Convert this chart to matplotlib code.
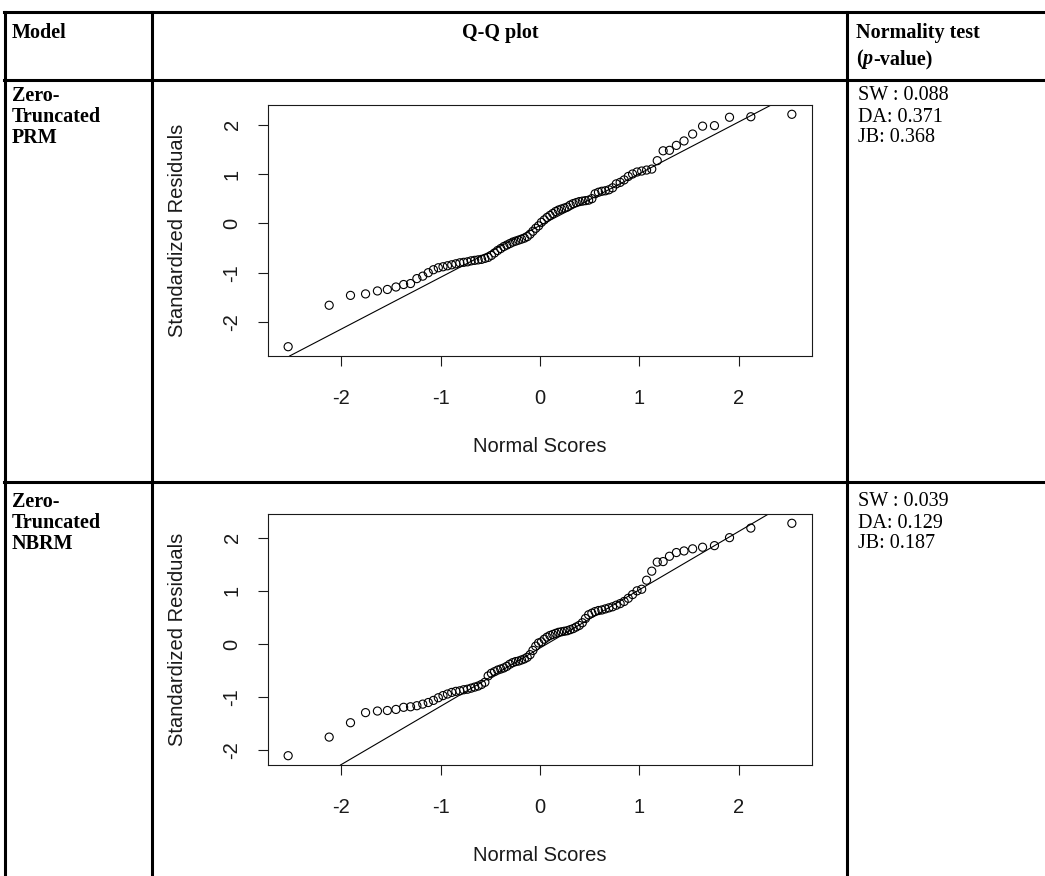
import numpy as np
import matplotlib.pyplot as plt
from matplotlib.lines import Line2D
from statistics import NormalDist

# --- Data: sorted standardized residuals of each model ---
models = [["Zero-", "Truncated", "PRM"], ["Zero-", "Truncated", "NBRM"]]
pvalues = [["SW : 0.088", "DA: 0.371", "JB: 0.368"],
           ["SW : 0.039", "DA: 0.129", "JB: 0.187"]]

resid_prm = [-2.50, -1.66, -1.46, -1.43, -1.37, -1.34, -1.29, -1.24, -1.22, -1.12,
             -1.07, -1.00, -0.94, -0.90, -0.88, -0.86, -0.84, -0.82, -0.80, -0.79,
             -0.78, -0.76, -0.75, -0.74, -0.73, -0.71, -0.69, -0.65, -0.60, -0.55,
             -0.51, -0.47, -0.44, -0.41, -0.38, -0.36, -0.34, -0.32, -0.30, -0.27,
             -0.22, -0.16, -0.10, -0.05,
             0.02, 0.07, 0.12, 0.16, 0.20, 0.24, 0.27, 0.29, 0.31, 0.33,
             0.37, 0.40, 0.42, 0.44, 0.45, 0.46, 0.47, 0.50, 0.60, 0.63,
             0.65, 0.66, 0.68, 0.72, 0.80, 0.83, 0.88, 0.95, 1.00, 1.04,
             1.06, 1.08, 1.10, 1.27, 1.47, 1.48, 1.58, 1.67, 1.81, 1.97,
             1.98, 2.15, 2.16, 2.21]

resid_nbrm = [-2.10, -1.75, -1.48, -1.29, -1.26, -1.25, -1.23, -1.19, -1.18, -1.16,
              -1.13, -1.10, -1.06, -1.01, -0.97, -0.94, -0.91, -0.89, -0.88, -0.86,
              -0.85, -0.83, -0.81, -0.79, -0.76, -0.72, -0.60, -0.55, -0.52, -0.49,
              -0.47, -0.45, -0.42, -0.38, -0.35, -0.33, -0.32, -0.30, -0.28, -0.25,
              -0.20, -0.12, -0.04, 0.02,
              0.04, 0.09, 0.13, 0.16, 0.18, 0.20, 0.22, 0.23, 0.24, 0.25,
              0.27, 0.29, 0.32, 0.35, 0.40, 0.48, 0.55, 0.58, 0.61, 0.63,
              0.64, 0.66, 0.68, 0.70, 0.73, 0.76, 0.80, 0.86, 0.93, 1.00,
              1.03, 1.20, 1.37, 1.54, 1.55, 1.65, 1.72, 1.75, 1.79, 1.82,
              1.85, 2.00, 2.18, 2.27]

residuals = [resid_prm, resid_nbrm]
ticks = [-2, -1, 0, 1, 2]

W, H = 1045, 876
plt.rcParams['axes.unicode_minus'] = False
serif = 'Liberation Serif'
sans = 'Liberation Sans'
tab_size = 14.5
ink = '#1a1a1a'

fig = plt.figure(figsize=(W / 100, H / 100), dpi=100)


def fx(x):
    return x / W


def fy(y):
    return 1 - y / H


def hline(y, x0, x1, lw=2.2):
    fig.add_artist(Line2D([fx(x0), fx(x1)], [fy(y), fy(y)], color='black', lw=lw))


def vline(x, y0, y1, lw=2.2):
    fig.add_artist(Line2D([fx(x), fx(x)], [fy(y0), fy(y1)], color='black', lw=lw))


# --- table grid ---
top = 12
rows = [80, 482]
hline(top, 4, W)
for r in rows:
    hline(r, 4, W)
vline(5, top, H)
vline(152, top, H)
vline(847, top, H)

# --- header ---
fig.text(fx(12), fy(33), "Model", family=serif, weight='bold', size=tab_size, va='center')
fig.text(fx(500), fy(33), "Q-Q plot", family=serif, weight='bold', size=tab_size,
         va='center', ha='center')
fig.text(fx(856), fy(33), "Normality test", family=serif, weight='bold', size=tab_size,
         va='center')
# "(p-value)" with an italic p
fig.canvas.draw()
xpos = fx(856)
for piece, style in [("(", 'normal'), ("p", 'italic'), ("-value)", 'normal')]:
    t = fig.text(xpos, fy(59), piece, family=serif, weight='bold', style=style,
                 size=tab_size, va='center')
    bb = t.get_window_extent(renderer=fig.canvas.get_renderer())
    xpos += bb.width / W

# --- rows ---
line_gap = 21
plot_tops = [105, 514]
box_h = 251
box_l, box_r = 268, 812

for k in range(2):
    r0 = rows[k]
    first = 96 if k == 0 else 502
    for j, word in enumerate(models[k]):
        fig.text(fx(12), fy(first + j * line_gap), word, family=serif, weight='bold',
                 size=tab_size, va='center')
    for j, s in enumerate(pvalues[k]):
        fig.text(fx(858), fy(first + j * line_gap), s, family=serif,
                 size=tab_size, va='center')

    y = np.array(residuals[k])
    n = len(y)
    # normal scores as in qqnorm (ppoints)
    p = (np.arange(1, n + 1) - 0.5) / n
    x = np.array([NormalDist().inv_cdf(v) for v in p])
    # qqline through the quartiles
    q = np.quantile(y, [0.25, 0.75])
    qx = np.array([NormalDist().inv_cdf(0.25), NormalDist().inv_cdf(0.75)])
    slope = (q[1] - q[0]) / (qx[1] - qx[0])
    icpt = q[0] - slope * qx[0]

    t0 = plot_tops[k]
    ax = fig.add_axes([fx(box_l), fy(t0 + box_h), fx(box_r - box_l), box_h / H])
    ax.scatter(x, y, s=34, facecolors='none', edgecolors='black', linewidths=0.8, zorder=3)
    ax.axline((0, icpt), slope=slope, color='black', lw=0.8)
    xr = x.max() - x.min()
    yr = y.max() - y.min()
    ax.set_xlim(x.min() - 0.04 * xr, x.max() + 0.04 * xr)
    ax.set_ylim(y.min() - 0.04 * yr, y.max() + 0.04 * yr)
    ax.set_xticks(ticks)
    ax.set_yticks(ticks)
    ax.set_xticklabels([str(v) for v in ticks])
    ax.set_yticklabels([str(v) for v in ticks])
    ax.tick_params(length=7, width=0.8, color=ink, labelsize=14.5, labelcolor=ink)
    ax.tick_params(axis='x', pad=17)
    ax.tick_params(axis='y', pad=12)
    for lbl in ax.get_xticklabels() + ax.get_yticklabels():
        lbl.set_family(sans)
    for lbl in ax.get_yticklabels():
        lbl.set_rotation(90)
        lbl.set_va('center')
    for sp in ax.spines.values():
        sp.set_linewidth(0.8)
        sp.set_color(ink)
    ax.text(0.5, -0.3625, "Normal Scores", transform=ax.transAxes, ha='center',
            va='center', family=sans, size=14.5, color=ink)
    ax.text(-0.167, 0.5, "Standardized Residuals", transform=ax.transAxes, ha='center',
            va='center', rotation=90, family=sans, size=14.5, color=ink)

fig.savefig('out.png', dpi=100)
